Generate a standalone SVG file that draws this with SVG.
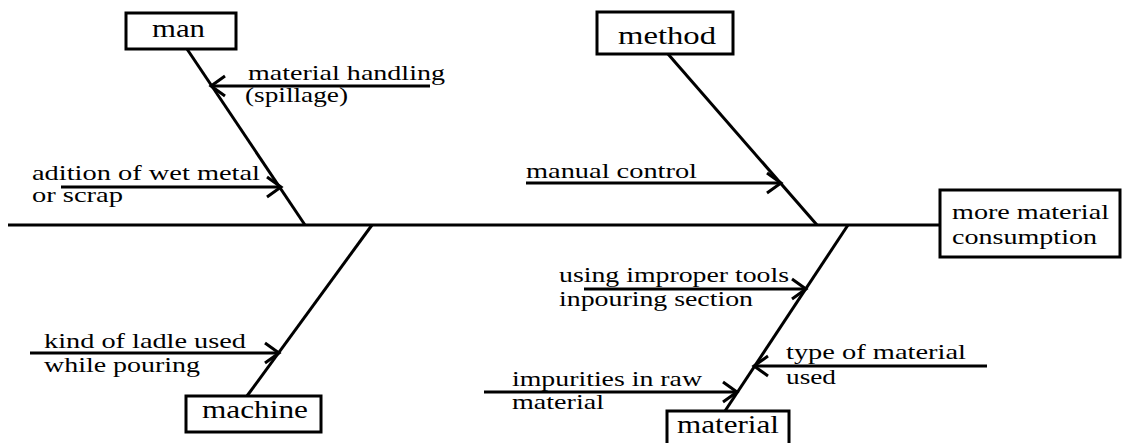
<svg xmlns="http://www.w3.org/2000/svg" width="1126" height="443" viewBox="0 0 1126 443">
<defs>
<style>
.ln{stroke:#000;stroke-width:3;fill:none}
.bx{stroke:#000;stroke-width:3;fill:#fff}
.t{font-family:"Liberation Serif","Times New Roman",serif;font-size:21px;fill:#000}
.h{font-family:"Liberation Serif","Times New Roman",serif;font-size:26px;fill:#000}
</style>
<marker id="ah" markerUnits="userSpaceOnUse" markerWidth="20" markerHeight="24" refX="16" refY="12" orient="auto" viewBox="0 0 20 24">
<path d="M2,2 L16,12 L2,22" stroke="#000" stroke-width="3" fill="none"/>
</marker>
</defs>
<rect width="1126" height="443" fill="#fff"/>
<g id="connectors">
<line class="ln" x1="8" y1="225" x2="940" y2="225"/>
<line class="ln" x1="187" y1="49" x2="305" y2="225"/>
<line class="ln" x1="668" y1="54" x2="817" y2="225"/>
<line class="ln" x1="372" y1="225" x2="247" y2="396"/>
<line class="ln" x1="848" y1="225" x2="725" y2="411"/>
<line class="ln" x1="430" y1="86" x2="211" y2="86" marker-end="url(#ah)"/>
<line class="ln" x1="61" y1="187" x2="281" y2="187" marker-end="url(#ah)"/>
<line class="ln" x1="526" y1="183" x2="781" y2="183" marker-end="url(#ah)"/>
<line class="ln" x1="30" y1="353" x2="279" y2="353" marker-end="url(#ah)"/>
<line class="ln" x1="584" y1="289" x2="806" y2="289" marker-end="url(#ah)"/>
<line class="ln" x1="987" y1="366" x2="754" y2="366" marker-end="url(#ah)"/>
<line class="ln" x1="484" y1="392" x2="737" y2="392" marker-end="url(#ah)"/>
</g>
<g id="man">
<rect class="bx" x="126" y="13" width="110" height="36"/>
<text class="h" x="152" y="37" textLength="53" lengthAdjust="spacingAndGlyphs">man</text>
</g>
<g id="method">
<rect class="bx" x="597" y="12" width="136" height="42"/>
<text class="h" x="618" y="44" textLength="98" lengthAdjust="spacingAndGlyphs">method</text>
</g>
<g id="machine">
<rect class="bx" x="186" y="396" width="135" height="36"/>
<text class="h" x="202" y="418" textLength="106" lengthAdjust="spacingAndGlyphs">machine</text>
</g>
<g id="material">
<rect class="bx" x="667" y="411" width="122" height="40"/>
<text class="h" x="677" y="433" textLength="102" lengthAdjust="spacingAndGlyphs">material</text>
</g>
<g id="effect">
<rect class="bx" x="940" y="190" width="180" height="67"/>
<text class="t" x="952" y="219" textLength="157" lengthAdjust="spacingAndGlyphs">more material</text>
<text class="t" x="952" y="244" textLength="145" lengthAdjust="spacingAndGlyphs">consumption</text>
</g>
<g id="labels">
<text class="t" x="248" y="80" textLength="197" lengthAdjust="spacingAndGlyphs">material handling</text>
<text class="t" x="245" y="102" textLength="103" lengthAdjust="spacingAndGlyphs">(spillage)</text>
<text class="t" x="32" y="180" textLength="228" lengthAdjust="spacingAndGlyphs">adition of wet metal</text>
<text class="t" x="32" y="202" textLength="91" lengthAdjust="spacingAndGlyphs">or scrap</text>
<text class="t" x="526" y="178" textLength="171" lengthAdjust="spacingAndGlyphs">manual control</text>
<text class="t" x="44" y="348" textLength="202" lengthAdjust="spacingAndGlyphs">kind of ladle used</text>
<text class="t" x="44" y="372" textLength="156" lengthAdjust="spacingAndGlyphs">while pouring</text>
<text class="t" x="559" y="282" textLength="230" lengthAdjust="spacingAndGlyphs">using improper tools</text>
<text class="t" x="559" y="306" textLength="194" lengthAdjust="spacingAndGlyphs">inpouring section</text>
<text class="t" x="786" y="359" textLength="180" lengthAdjust="spacingAndGlyphs">type of material</text>
<text class="t" x="786" y="384" textLength="50" lengthAdjust="spacingAndGlyphs">used</text>
<text class="t" x="512" y="386" textLength="190" lengthAdjust="spacingAndGlyphs">impurities in raw</text>
<text class="t" x="512" y="409" textLength="92" lengthAdjust="spacingAndGlyphs">material</text>
</g>
</svg>
